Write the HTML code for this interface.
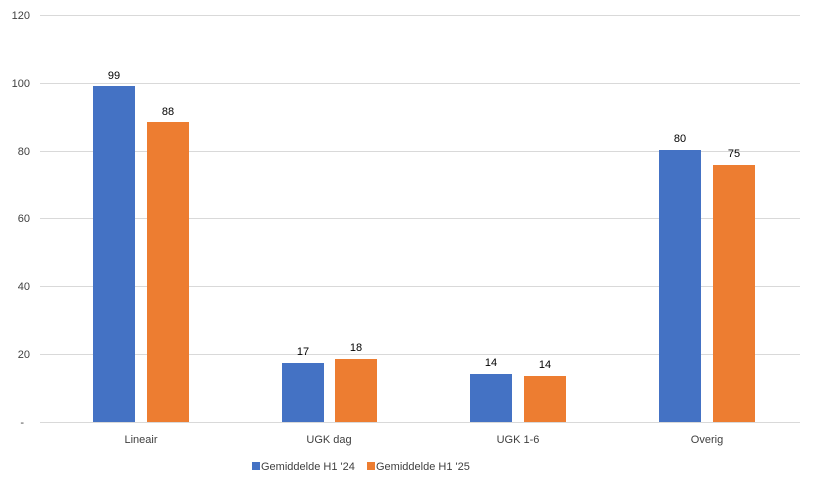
<!DOCTYPE html><html><head><style>body{margin:0;background:#fff}svg text{font-family:"Liberation Sans",sans-serif;fill:#404040}</style></head><body>
<svg width="816" height="486" xmlns="http://www.w3.org/2000/svg">
<g stroke="#d9d9d9" stroke-width="1">
<line x1="40" x2="800" y1="15.5" y2="15.5"/><line x1="40" x2="800" y1="83.5" y2="83.5"/><line x1="40" x2="800" y1="151.5" y2="151.5"/><line x1="40" x2="800" y1="218.5" y2="218.5"/><line x1="40" x2="800" y1="286.5" y2="286.5"/><line x1="40" x2="800" y1="354.5" y2="354.5"/>
</g>
<g font-size="11" text-anchor="end">
<text x="30" y="19">120</text><text x="30" y="87">100</text><text x="30" y="155">80</text><text x="30" y="222">60</text><text x="30" y="290">40</text><text x="30" y="358">20</text><text x="24" y="426">-</text>
</g>
<g fill="#4472c4"><rect x="93" y="86" width="42" height="336"/><rect x="282" y="363" width="42" height="59"/><rect x="470" y="374" width="42" height="48"/><rect x="659" y="150" width="42" height="272"/></g>
<g fill="#ed7d31"><rect x="147" y="122" width="42" height="300"/><rect x="335" y="359" width="42" height="63"/><rect x="524" y="376" width="42" height="46"/><rect x="713" y="165" width="42" height="257"/></g>
<line x1="40" x2="800" y1="422.5" y2="422.5" stroke="#d9d9d9"/>
<g font-size="11" text-anchor="middle" fill="#000">
<text x="114" y="79" style="fill:#000">99</text><text x="168" y="115" style="fill:#000">88</text>
<text x="303" y="355" style="fill:#000">17</text><text x="356" y="351" style="fill:#000">18</text>
<text x="491" y="366" style="fill:#000">14</text><text x="545" y="368" style="fill:#000">14</text>
<text x="680" y="142" style="fill:#000">80</text><text x="734" y="157" style="fill:#000">75</text>
<text x="141" y="443">Lineair</text><text x="329" y="443">UGK dag</text><text x="518" y="443">UGK 1-6</text><text x="707" y="443">Overig</text>
</g>
<rect x="252" y="462" width="8" height="8" fill="#4472c4"/><text x="261" y="470" font-size="11">Gemiddelde H1 '24</text>
<rect x="367" y="462" width="8" height="8" fill="#ed7d31"/><text x="376" y="470" font-size="11">Gemiddelde H1 '25</text>
</svg></body></html>
